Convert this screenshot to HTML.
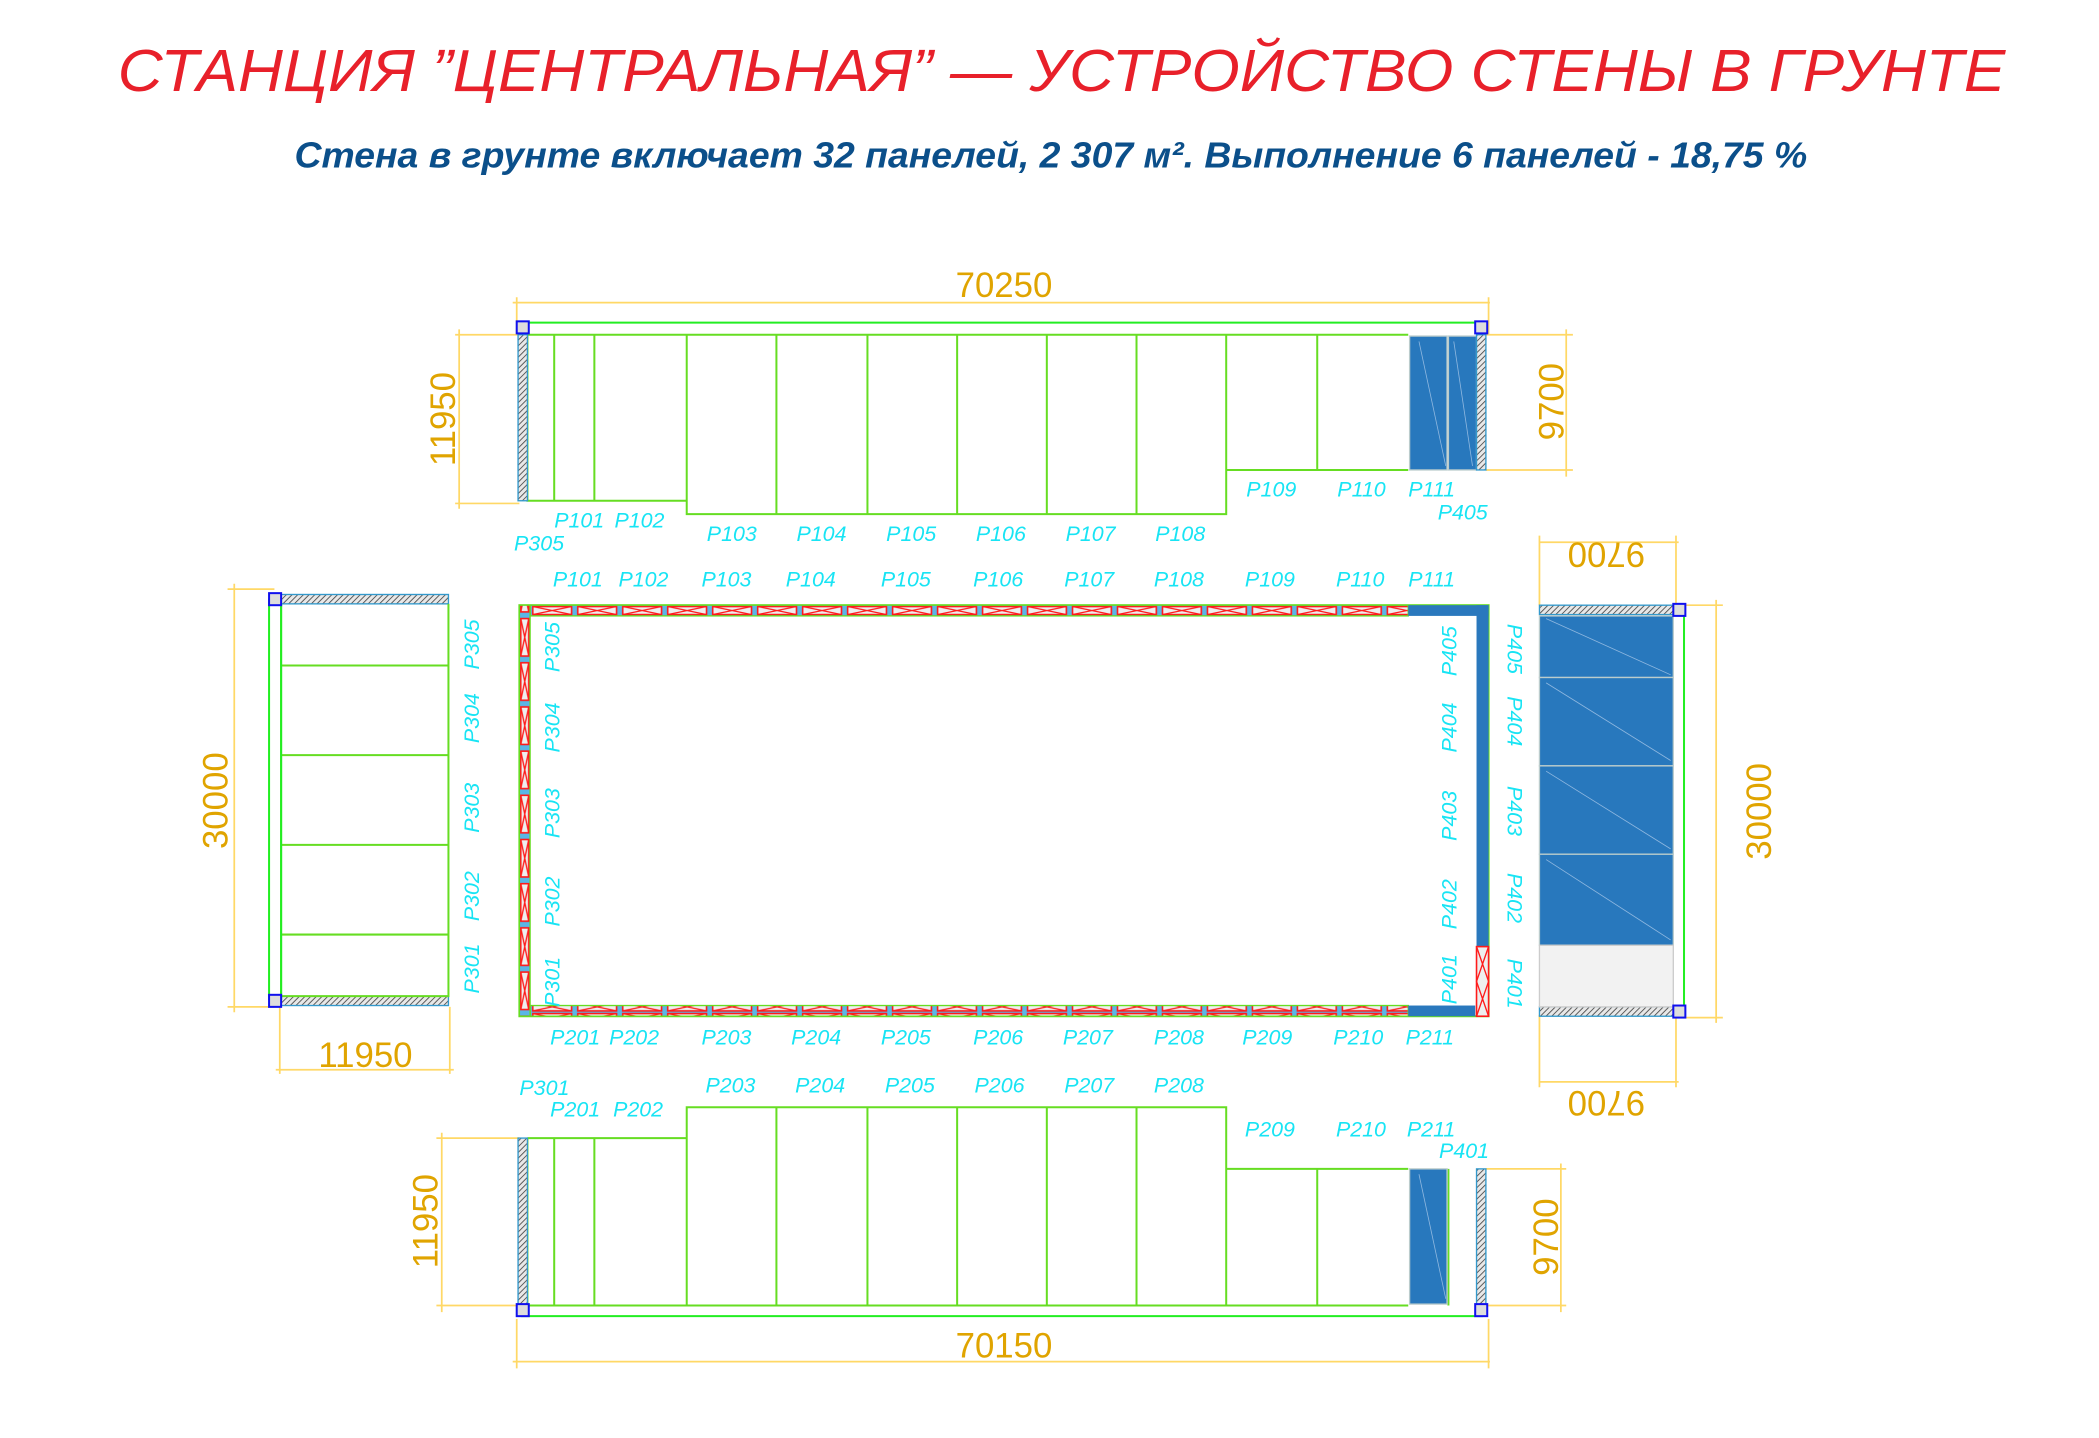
<!DOCTYPE html>
<html><head><meta charset="utf-8"><style>
html,body{margin:0;padding:0;background:#fff;}
svg{display:block;}
.l{fill:#18e4f4;font-family:"Liberation Sans",sans-serif;font-style:italic;font-size:16px;}
.d{fill:#e0a400;font-family:"Liberation Sans",sans-serif;font-size:26px;}
.dl{stroke:#ffd866;stroke-width:1.3;fill:none;}
.g{stroke:#66dd22;stroke-width:1.5;fill:none;}
.g2{stroke:#22ee22;stroke-width:1.5;fill:none;}
</style></head><body>
<svg width="2099" height="1438" viewBox="0 0 1568 1074" preserveAspectRatio="none" xmlns="http://www.w3.org/2000/svg">
<defs>
<pattern id="hat" patternUnits="userSpaceOnUse" width="3" height="3" patternTransform="rotate(45)">
<rect width="3" height="3" fill="#e8e8e8"/><line x1="0" y1="0" x2="0" y2="3" stroke="#555" stroke-width="1.4"/></pattern>
<pattern id="hx" patternUnits="userSpaceOnUse" x="396" y="452" width="33.6" height="8">
<rect x="0" y="0" width="33.6" height="8" fill="#5ab6e6"/>
<rect x="2" y="1" width="29" height="6" fill="#eee" stroke="#ff1a1a" stroke-width="1.2"/>
<path d="M2 1L31 7M2 7L31 1" stroke="#ff1a1a" stroke-width="1"/></pattern>
<pattern id="vx" patternUnits="userSpaceOnUse" x="388" y="460" width="8" height="33">
<rect width="8" height="33" fill="#5ab6e6"/>
<rect x="1" y="2" width="6" height="28" fill="#eee" stroke="#ff1a1a" stroke-width="1.2"/>
<path d="M1 2L7 30M7 2L1 30" stroke="#ff1a1a" stroke-width="1"/></pattern>
</defs>
<text x="88" y="68" textLength="1410" lengthAdjust="spacingAndGlyphs" fill="#e8202a" font-family="Liberation Sans, sans-serif" font-style="italic" font-size="44">СТАНЦИЯ  ”ЦЕНТРАЛЬНАЯ”  —  УСТРОЙСТВО  СТЕНЫ  В  ГРУНТЕ</text>
<text x="220" y="125" textLength="1130" lengthAdjust="spacingAndGlyphs" fill="#0b4f8a" font-family="Liberation Sans, sans-serif" font-style="italic" font-weight="bold" font-size="27">Стена в грунте включает 32 панелей, 2 307 м². Выполнение 6 панелей - 18,75 %</text>

<path class="dl" d="M383 226H1113M386 222V250M1112 222V250M340 250H388M340 376H388M343 246V380M1110 250H1175M1110 351H1175M1170 246V356"/>
<text class="d" x="750" y="222" text-anchor="middle">70250</text>
<text class="d" transform="translate(340,313) rotate(-90)" text-anchor="middle">11950</text>
<text class="d" transform="translate(1168,300) rotate(-90)" text-anchor="middle">9700</text>
<path class="g2" d="M390 241H1107V250M390 241V250"/>
<path class="g" d="M394 250H1052M394 250V374H513V384H916V351H1052M414 250V374M444 250V374M513 250V384M580 250V384M648 250V384M715 250V384M782 250V384M849 250V384M916 250V351M984 250V351"/>
<rect x="387" y="250" width="7" height="124" fill="url(#hat)" stroke="#3399cc" stroke-width="1"/>
<rect x="1053" y="251" width="28" height="100" fill="#2878bd" stroke="#bcc" stroke-width="1"/>
<rect x="1082" y="251" width="21" height="100" fill="#2878bd" stroke="#bcc" stroke-width="1"/>
<path d="M1060 255L1080 348M1086 255L1100 348" stroke="#8fb8e0" stroke-width="0.6"/>
<rect x="1103" y="250" width="7" height="101" fill="url(#hat)" stroke="#3399cc" stroke-width="1"/>
<rect x="386" y="240" width="9" height="9" fill="#ddd" stroke="#1010ee" stroke-width="1.5"/>
<rect x="1102" y="240" width="9" height="9" fill="#ddd" stroke="#1010ee" stroke-width="1.5"/>
<g class="l"><text x="414" y="394">P101</text><text x="459" y="394">P102</text><text x="528" y="404">P103</text><text x="595" y="404">P104</text><text x="662" y="404">P105</text><text x="729" y="404">P106</text><text x="796" y="404">P107</text><text x="863" y="404">P108</text><text x="931" y="371">P109</text><text x="999" y="371">P110</text><text x="1052" y="371">P111</text><text x="1074" y="388">P405</text><text x="384" y="411">P305</text></g>

<rect x="388" y="452" width="724" height="307" fill="none" stroke="#66dd22" stroke-width="1.5"/>
<rect x="396" y="452" width="656" height="8" fill="url(#hx)" stroke="#66dd22" stroke-width="1"/>
<rect x="396" y="751" width="656" height="8" fill="url(#hx)" stroke="#66dd22" stroke-width="1"/>
<rect x="388" y="452" width="8" height="307" fill="url(#vx)" stroke="#66dd22" stroke-width="1"/>
<rect x="1052" y="452" width="60" height="8" fill="#2a78bd"/>
<rect x="1052" y="751" width="50" height="8" fill="#2a78bd"/>
<rect x="1103" y="452" width="9" height="255" fill="#2a78bd"/>
<rect x="1103" y="707" width="9" height="52" fill="#eee" stroke="#ff1a1a" stroke-width="1.2"/>
<path d="M1103 707L1112 733L1103 759M1112 707L1103 733L1112 759" stroke="#ff1a1a" stroke-width="1" fill="none"/>
<g class="l"><text x="413" y="438">P101</text><text x="462" y="438">P102</text><text x="524" y="438">P103</text><text x="587" y="438">P104</text><text x="658" y="438">P105</text><text x="727" y="438">P106</text><text x="795" y="438">P107</text><text x="862" y="438">P108</text><text x="930" y="438">P109</text><text x="998" y="438">P110</text><text x="1052" y="438">P111</text>
<text x="411" y="780">P201</text><text x="455" y="780">P202</text><text x="524" y="780">P203</text><text x="591" y="780">P204</text><text x="658" y="780">P205</text><text x="727" y="780">P206</text><text x="794" y="780">P207</text><text x="862" y="780">P208</text><text x="928" y="780">P209</text><text x="996" y="780">P210</text><text x="1050" y="780">P211</text>
<text transform="translate(418,502) rotate(-90)">P305</text><text transform="translate(418,562) rotate(-90)">P304</text><text transform="translate(418,626) rotate(-90)">P303</text><text transform="translate(418,692) rotate(-90)">P302</text><text transform="translate(418,752) rotate(-90)">P301</text>
<text transform="translate(1088,505) rotate(-90)">P405</text><text transform="translate(1088,562) rotate(-90)">P404</text><text transform="translate(1088,628) rotate(-90)">P403</text><text transform="translate(1088,694) rotate(-90)">P402</text><text transform="translate(1088,750) rotate(-90)">P401</text>
<text transform="translate(1126,466) rotate(90)">P405</text><text transform="translate(1126,520) rotate(90)">P404</text><text transform="translate(1126,587) rotate(90)">P403</text><text transform="translate(1126,652) rotate(90)">P402</text><text transform="translate(1126,716) rotate(90)">P401</text>
<text transform="translate(358,500) rotate(-90)">P305</text><text transform="translate(358,555) rotate(-90)">P304</text><text transform="translate(358,622) rotate(-90)">P303</text><text transform="translate(358,688) rotate(-90)">P302</text><text transform="translate(358,742) rotate(-90)">P301</text></g>

<path class="dl" d="M170 440H205M170 752H205M175 436V756M209 752V802M336 752V802M206 799H339"/>
<text class="d" transform="translate(170,598) rotate(-90)" text-anchor="middle">30000</text>
<text class="d" x="273" y="797" text-anchor="middle">11950</text>
<rect x="210" y="444" width="125" height="7" fill="url(#hat)" stroke="#3399cc" stroke-width="1"/>
<rect x="210" y="744" width="125" height="7" fill="url(#hat)" stroke="#3399cc" stroke-width="1"/>
<path class="g" d="M210 451V744H335V451M210 497H335M210 564H335M210 631H335M210 698H335"/>
<path class="g2" d="M201 447V747M210 447V747"/>
<rect x="201" y="443" width="9" height="9" fill="#ddd" stroke="#1010ee" stroke-width="1.5"/>
<rect x="201" y="743" width="9" height="9" fill="#ddd" stroke="#1010ee" stroke-width="1.5"/>

<path class="dl" d="M1150 405H1254M1150 400V452M1252 400V452M1258 452H1287M1258 760H1287M1282 448V764M1150 758V812M1252 758V812M1150 808H1254"/>
<text class="d" transform="translate(1200,405) rotate(180)" text-anchor="middle">9700</text>
<text class="d" transform="translate(1200,815) rotate(180)" text-anchor="middle">9700</text>
<text class="d" transform="translate(1323,606) rotate(-90)" text-anchor="middle">30000</text>
<rect x="1150" y="452" width="100" height="7" fill="url(#hat)" stroke="#3399cc" stroke-width="1"/>
<rect x="1150" y="752" width="100" height="7" fill="url(#hat)" stroke="#3399cc" stroke-width="1"/>
<rect x="1150" y="460" width="100" height="46" fill="#2878bd" stroke="#bcc"/>
<rect x="1150" y="506" width="100" height="66" fill="#2878bd" stroke="#bcc"/>
<rect x="1150" y="572" width="100" height="66" fill="#2878bd" stroke="#bcc"/>
<rect x="1150" y="638" width="100" height="68" fill="#2878bd" stroke="#bcc"/>
<rect x="1150" y="706" width="100" height="46" fill="#f2f2f2" stroke="#ccc"/>
<path d="M1155 462L1248 504M1155 510L1248 568M1155 576L1248 634M1155 642L1248 702" stroke="#8fb8e0" stroke-width="0.6"/>
<path class="g2" d="M1250 456H1258V756H1250"/>
<rect x="1250" y="451" width="9" height="9" fill="#ddd" stroke="#1010ee" stroke-width="1.5"/>
<rect x="1250" y="751" width="9" height="9" fill="#ddd" stroke="#1010ee" stroke-width="1.5"/>

<path class="dl" d="M326 850H388M326 975H388M330 846V980M1110 873H1170M1110 975H1170M1166 869V980M383 1017H1113M386 985V1022M1112 985V1022"/>
<text class="d" transform="translate(327,912) rotate(-90)" text-anchor="middle">11950</text>
<text class="d" transform="translate(1164,924) rotate(-90)" text-anchor="middle">9700</text>
<text class="d" x="750" y="1014" text-anchor="middle">70150</text>
<path class="g2" d="M390 975V983H1107V975"/>
<path class="g" d="M394 975H1052M394 850V975M394 850H513V827H916V873H1052M414 850V975M444 850V975M513 827V975M580 827V975M648 827V975M715 827V975M782 827V975M849 827V975M916 827V975M984 873V975M1082 873V975"/>
<rect x="387" y="850" width="7" height="125" fill="url(#hat)" stroke="#3399cc" stroke-width="1"/>
<rect x="1053" y="873" width="28" height="101" fill="#2878bd" stroke="#bcc"/>
<path d="M1060 877L1080 970" stroke="#8fb8e0" stroke-width="0.6"/>
<rect x="1103" y="873" width="7" height="102" fill="url(#hat)" stroke="#3399cc" stroke-width="1"/>
<rect x="386" y="974" width="9" height="9" fill="#ddd" stroke="#1010ee" stroke-width="1.5"/>
<rect x="1102" y="974" width="9" height="9" fill="#ddd" stroke="#1010ee" stroke-width="1.5"/>
<g class="l"><text x="388" y="818">P301</text><text x="411" y="834">P201</text><text x="458" y="834">P202</text><text x="527" y="816">P203</text><text x="594" y="816">P204</text><text x="661" y="816">P205</text><text x="728" y="816">P206</text><text x="795" y="816">P207</text><text x="862" y="816">P208</text><text x="930" y="849">P209</text><text x="998" y="849">P210</text><text x="1051" y="849">P211</text><text x="1075" y="865">P401</text></g>
</svg>
</body></html>
